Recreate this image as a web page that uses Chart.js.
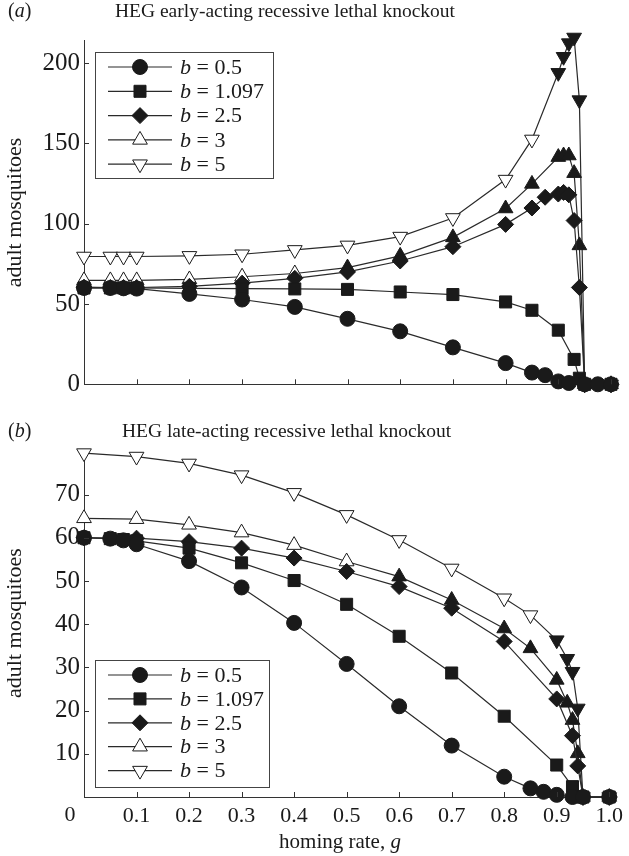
<!DOCTYPE html>
<html>
<head>
<meta charset="utf-8">
<script src="https://cdn.jsdelivr.net/npm/chart.js@4.4.1/dist/chart.umd.min.js"></script>
<style>
  body { margin: 0; background: #fff; width: 629px; height: 856px; overflow: hidden; }
  canvas { position: absolute; left: 0; }
  #early { top: 0; }
  #late { top: 420px; }
</style>
</head>
<body>
<canvas id="early" width="629" height="420"></canvas>
<canvas id="late" width="629" height="436"></canvas>
<script>
// homing rate g (shared x values), null = no point at that g
const homing = [0, 0.05, 0.075, 0.1, 0.2, 0.3, 0.4, 0.5, 0.6, 0.7, 0.8, 0.85, 0.875, 0.9, 0.91, 0.92, 0.93, 0.94, 0.95, 0.975, 1.0];
const bValues = ['0.5', '1.097', '2.5', '3', '5'];

// tick labels
const xTicks = [0, 0.1, 0.2, 0.3, 0.4, 0.5, 0.6, 0.7, 0.8, 0.9, 1.0];
const yTicksEarly = [0, 50, 100, 150, 200];
const yTicksLate = [10, 20, 30, 40, 50, 60, 70];

// (a) early-acting recessive lethal knockout
const early_b05  = [60, 60, 59.8, 59.6, 56.3, 52.8, 48.2, 40.8, 33, 23, 13.2, 7.3, 5.7, 1.8, null, 0.8, null, null, 0, 0, 0];
const early_b1097 = [60, 60, 60, 60, 59.8, 59.6, 59.4, 59.1, 57.5, 55.9, 51.3, 46.1, null, 33.7, null, null, 15.5, 3.8, 0, null, 0];
const early_b25  = [60.5, 60.3, 60.3, 60.3, 61, 63, 66, 70, 76.8, 85.7, 99.6, 109.8, 116.5, 118.5, 119.5, 118, 102, 60.3, 0, null, 0];
const early_b3   = [64.7, 64.7, 64.7, 64.7, 65.3, 67, 69, 72.7, 80, 91.5, 109.5, 124.8, null, 141.5, 142.5, 142.5, 131.5, 86.5, 0, null, 0];
const early_b5   = [79.6, 79.6, 79.6, 79.6, 80, 81, 83.7, 86.5, 92, 103.6, 127.5, 152.5, null, 194, 204, 212.5, 216, 177, 0, null, 0];

// (b) late-acting recessive lethal knockout
const late_b05   = [60, 59.8, 59.4, 58.5, 54.6, 48.5, 40.3, 30.8, 21, 11.9, 4.7, 2, 1.2, 0.5, null, null, 0, null, 0, null, 0];
const late_b1097 = [60, 59.8, 59.6, 59.3, 57.6, 54.2, 50.1, 44.6, 37.2, 28.7, 18.7, null, null, 7.4, null, null, 2.4, 0, 0, null, 0];
const late_b25   = [60, null, null, 59.9, 59.1, 57.6, 55.3, 52.2, 48.7, 43.7, 36, null, null, 22.7, null, null, 14.2, 7.2, 0, null, 0];
const late_b3    = [64.5, null, null, 64.3, 63, 61.2, 58.3, 54.5, 51, 45.6, 39, 34.4, null, 27.1, null, 21.8, 17.8, 10.1, 0, null, 0];
const late_b5    = [79.6, null, null, 78.8, 77.2, 74.5, 70.4, 65.3, 59.5, 52.9, 46, 42.1, null, 36.3, null, 32, 29, 20.5, 0, null, 0];

const serif = '"Liberation Serif", "Times New Roman", serif';
const ink = '#1a1a1a';

// marker look per b; open markers turn solid from g >= solidFrom
const markers = [
  { style: 'circle',   radius: 7.5, rotation: 0,   open: false },
  { style: 'rect',     radius: 8.5, rotation: 0,   open: false },
  { style: 'rectRot',  radius: 8,   rotation: 0,   open: false },
  { style: 'triangle', radius: 8.5, rotation: 0,   open: true },
  { style: 'triangle', radius: 8.5, rotation: 180, open: true }
];

function fills(m, solidFrom) {
  return homing.map(g => (!m.open || g >= solidFrom) ? ink : '#fff');
}

function makeSets(series, solidFrom) {
  return series.map((vals, i) => {
    const m = markers[i];
    return {
      label: 'b = ' + bValues[i],
      data: vals,
      borderColor: '#2a2a2a',
      borderWidth: 1.2,
      pointStyle: m.style,
      pointRadius: m.radius,
      pointRotation: m.rotation,
      pointBorderColor: ink,
      pointBorderWidth: 1,
      pointBackgroundColor: fills(m, solidFrom[i]),
      pointHoverRadius: m.radius,
      spanGaps: true,
      tension: 0,
      clip: false
    };
  });
}

function drawRich(ctx, parts, x, y, size, align) {
  const fonts = parts.map(p => (p[1] ? 'italic ' : '') + size + 'px ' + serif);
  let w = 0;
  parts.forEach((p, i) => { ctx.font = fonts[i]; w += ctx.measureText(p[0]).width; });
  let cx = align === 'center' ? x - w / 2 : x;
  ctx.textAlign = 'left';
  parts.forEach((p, i) => { ctx.font = fonts[i]; ctx.fillText(p[0], cx, y); cx += ctx.measureText(p[0]).width; });
}

const extras = {
  id: 'extras',
  afterDraw(chart, args, o) {
    const ctx = chart.ctx, xs = chart.scales.x, ys = chart.scales.y;
    ctx.save();
    // inward tick marks
    ctx.strokeStyle = '#333';
    ctx.lineWidth = 1;
    ctx.beginPath();
    xs.ticks.forEach(t => {
      if (t.value <= 0) return;
      const px = Math.round(xs.getPixelForValue(t.value)) + 0.5;
      ctx.moveTo(px, ys.bottom); ctx.lineTo(px, ys.bottom - 5);
    });
    ys.ticks.forEach(t => {
      const py = Math.round(ys.getPixelForValue(t.value)) + 0.5;
      ctx.moveTo(xs.left, py); ctx.lineTo(xs.left + 5, py);
    });
    ctx.stroke();

    ctx.fillStyle = ink;
    ctx.textBaseline = 'middle';
    drawRich(ctx, [['(', 0], [o.tag, 1], [')', 0]], 8, o.titleY, 20);
    drawRich(ctx, [[o.title, 0]], o.titleX, o.titleY, 19.5);

    if (o.xTitle) {
      drawRich(ctx, [['homing rate, ', 0], ['g', 1]], 340, o.xTitleY, 21, 'center');
      ctx.font = '22px ' + serif;
      ctx.textAlign = 'center';
      ctx.fillText('0', xs.getPixelForValue(0) - 14, o.zeroY);
    }

    // legend box
    const L = o.legend;
    ctx.strokeStyle = '#444';
    ctx.lineWidth = 1;
    ctx.strokeRect(L.x + 0.5, L.y + 0.5, L.w, L.h);
    chart.data.datasets.forEach((ds, i) => {
      const m = markers[i];
      const yy = L.y + L.first + i * L.step;
      ctx.strokeStyle = '#2a2a2a';
      ctx.lineWidth = 1.2;
      ctx.beginPath();
      ctx.moveTo(L.x + 13, yy); ctx.lineTo(L.x + 77, yy);
      ctx.stroke();
      ctx.fillStyle = m.open ? '#fff' : ink;
      ctx.strokeStyle = ink;
      ctx.lineWidth = 1;
      Chart.helpers.drawPoint(ctx, { pointStyle: m.style, radius: m.radius, rotation: m.rotation, borderWidth: 1 }, L.x + 45, yy);
      ctx.fillStyle = ink;
      ctx.textBaseline = 'middle';
      drawRich(ctx, [['b', 1], [' = ' + bValues[i], 0]], L.x + 85, yy + 1, 22);
    });
    ctx.restore();
  }
};

function makeChart(id, series, solidFrom, yMax, yTicks, showX, pad, xHeight, extraOpts) {
  return new Chart(document.getElementById(id), {
    type: 'line',
    data: { labels: homing, datasets: makeSets(series, solidFrom) },
    options: {
      responsive: false,
      animation: false,
      layout: { padding: { top: pad, right: 18, left: 0, bottom: 0 } },
      plugins: { legend: { display: false }, tooltip: { enabled: false }, extras: extraOpts },
      scales: {
        x: {
          type: 'linear', min: 0, max: 1,
          grid: { display: false, drawTicks: false },
          border: { display: true, color: '#333', width: 1 },
          ticks: {
            display: showX, padding: 6, color: ink,
            font: { family: serif, size: 22 },
            maxRotation: 0, autoSkip: false,
            callback: v => v < 0.001 ? '' : Number(v).toFixed(1)
          },
          afterBuildTicks: s => { s.ticks = xTicks.map(v => ({ value: v })); },
          afterFit: s => { s.height = xHeight; }
        },
        y: {
          min: 0, max: yMax,
          grid: { display: false, drawTicks: false },
          border: { display: true, color: '#333', width: 1 },
          ticks: { padding: 4, color: ink, font: { family: serif, size: 25 } },
          afterBuildTicks: s => { s.ticks = yTicks.map(v => ({ value: v })); },
          title: { display: true, text: 'adult mosquitoes', color: ink, font: { family: serif, size: 22 }, padding: { top: 2, bottom: 0 } },
          afterFit: s => { s.width = 84; }
        }
      }
    },
    plugins: [extras]
  });
}

makeChart('early',
  [early_b05, early_b1097, early_b25, early_b3, early_b5],
  [2, 2, 2, 0.5, 0.9],
  214, yTicksEarly, false, 40.7, 35.7,
  { tag: 'a', title: 'HEG early-acting recessive lethal knockout', titleX: 115, titleY: 12,
    legend: { x: 95, y: 52, w: 178, h: 126, first: 15, step: 24.3 } });

makeChart('late',
  [late_b05, late_b1097, late_b25, late_b3, late_b5],
  [2, 2, 2, 0.6, 0.9],
  80.5, yTicksLate, true, 29.2, 59,
  { tag: 'b', title: 'HEG late-acting recessive lethal knockout', titleX: 122, titleY: 12,
    xTitle: true, xTitleY: 422, zeroY: 395,
    legend: { x: 95, y: 240, w: 174, h: 127, first: 15, step: 23.9 } });
</script>
</body>
</html>
